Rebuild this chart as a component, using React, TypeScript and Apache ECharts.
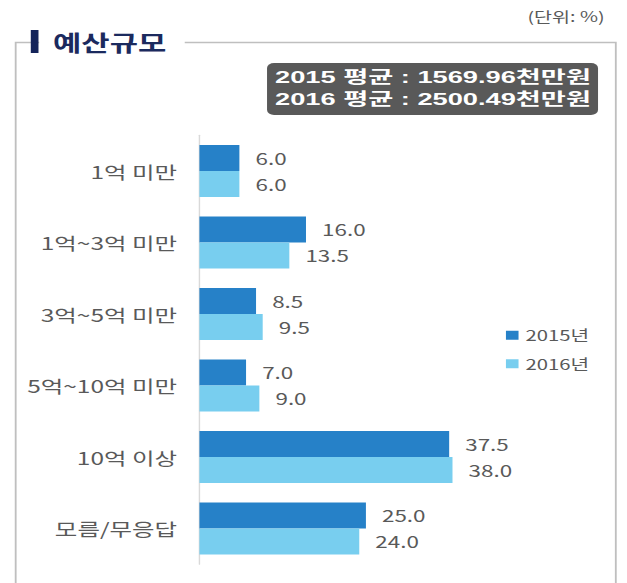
import React, { useEffect, useRef } from "react";
import * as echarts from "echarts";

const categories = ["1억 미만", "1억~3억 미만", "3억~5억 미만", "5억~10억 미만", "10억 이상", "모름/무응답"];
const values2015 = [6.0, 16.0, 8.5, 7.0, 37.5, 25.0];
const values2016 = [6.0, 13.5, 9.5, 9.0, 38.0, 24.0];
const seriesNames = ["2015년", "2016년"];
const titleText = "예산규모";
const unitText = "(단위: %)";
const avgLines = ["2015 평균 : 1569.96천만원", "2016 평균 : 2500.49천만원"];

const FONT = "'Noto Sans CJK KR', 'Noto Sans', sans-serif";
const BOX_FONT = "'Liberation Sans', 'Noto Sans CJK KR', sans-serif";
const W = 448;
const H = 583;
const SX = 627 / W;

export default function App() {
  const ref = useRef<HTMLDivElement>(null);
  useEffect(() => {
    if (!ref.current) return;
    const chart = echarts.init(ref.current, undefined, { renderer: "svg", width: W, height: H });
    const labelStyle = {
      show: true,
      position: "right",
      distance: 11.5,
      fontSize: 16,
      fontFamily: FONT,
      color: "#595959",
      formatter: (p: any) => Number(p.value).toFixed(1),
    };
    const boxText = (text: string, y: number) => ({
      type: "text",
      x: 196.5,
      y,
      scaleX: 1.145,
      style: {
        text,
        fontSize: 17,
        fontWeight: "bold",
        fontFamily: BOX_FONT,
        fill: "#FFFFFF",
        verticalAlign: "middle",
      },
    });
    chart.setOption({
      animation: false,
      textStyle: { fontFamily: FONT },
      grid: { left: 142.5, top: 135.25, width: 285.5, height: 429 },
      xAxis: { type: "value", min: 0, max: 60, show: false },
      yAxis: {
        type: "category",
        data: categories,
        inverse: true,
        axisTick: { show: false },
        axisLine: { show: true, lineStyle: { color: "#D9D9D9", width: 1 } },
        axisLabel: { fontSize: 17.5, color: "#595959", margin: 16, fontFamily: FONT },
      },
      legend: {
        orient: "vertical",
        left: 361.5,
        top: 328,
        padding: 0,
        itemWidth: 9,
        itemHeight: 9,
        itemGap: 14,
        icon: "rect",
        textStyle: { fontSize: 14.5, color: "#595959", lineHeight: 14 },
        data: seriesNames,
      },
      series: [
        {
          name: seriesNames[0],
          type: "bar",
          data: values2015,
          barWidth: 26,
          barGap: "0%",
          itemStyle: { color: "#2681C8" },
          label: labelStyle,
        },
        {
          name: seriesNames[1],
          type: "bar",
          data: values2016,
          barWidth: 26,
          barGap: "0%",
          itemStyle: { color: "#78CEEF" },
          label: labelStyle,
        },
      ],
      graphic: [
        {
          type: "polyline",
          shape: { points: [[28, 42.5], [11.2, 42.5], [11.2, 600]] },
          style: { stroke: "#BFBFBF", lineWidth: 1.3, fill: null },
        },
        {
          type: "polyline",
          shape: { points: [[132, 42.5], [440, 42.5], [440, 600]] },
          style: { stroke: "#BFBFBF", lineWidth: 1.3, fill: null },
        },
        {
          type: "rect",
          shape: { x: 22, y: 30, width: 5.5, height: 23 },
          style: { fill: "#14245A" },
        },
        {
          type: "text",
          x: 37.9,
          y: 41.5,
          style: {
            text: titleText,
            fontSize: 22,
            fontWeight: "bold",
            fontFamily: FONT,
            fill: "#1B2A5E",
            verticalAlign: "middle",
          },
        },
        {
          type: "text",
          x: 432,
          y: 16,
          style: {
            text: unitText,
            fontSize: 14,
            fontFamily: FONT,
            fill: "#595959",
            align: "right",
            verticalAlign: "middle",
          },
        },
        {
          type: "rect",
          shape: { x: 190.8, y: 63, width: 236.5, height: 52, r: 5 },
          style: { fill: "#595959" },
        },
        boxText(avgLines[0], 77.5),
        boxText(avgLines[1], 99.5),
      ],
    });
    return () => chart.dispose();
  }, []);
  return (
    <div
      ref={ref}
      style={{
        position: "absolute",
        left: 0,
        top: 0,
        width: W,
        height: H,
        background: "#FFFFFF",
        transform: `scaleX(${SX})`,
        transformOrigin: "0 0",
      }}
    />
  );
}
